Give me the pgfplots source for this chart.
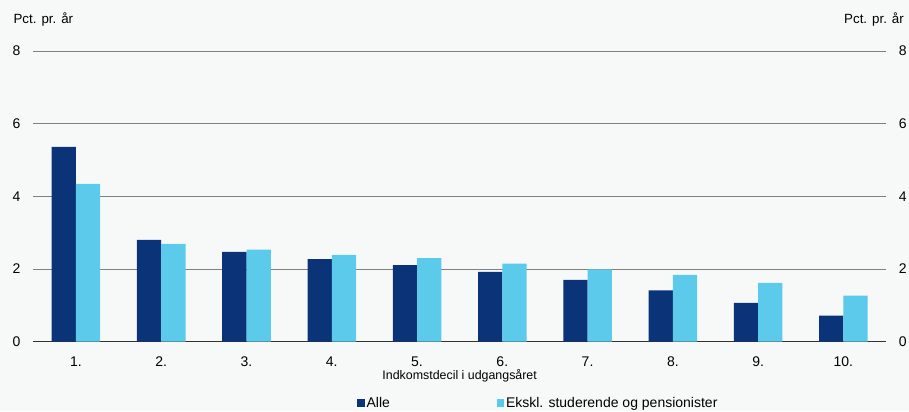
\documentclass[border=0pt]{standalone}
\usepackage{pgfplots}
\pgfplotsset{compat=1.18}
\usepackage{fontspec}
\setmainfont{Liberation Sans}

\definecolor{bg}{RGB}{247,249,249}
\definecolor{alle}{RGB}{10,51,120}
\definecolor{ekskl}{RGB}{92,203,235}
\definecolor{gridc}{RGB}{128,128,128}

\pgfplotstableread{
x alle ekskl
1  5.36 4.34
2  2.80 2.69
3  2.47 2.53
4  2.27 2.39
5  2.11 2.30
6  1.92 2.15
7  1.70 1.99
8  1.41 1.84
9  1.07 1.62
10 0.72 1.27
}\decil

\begin{document}
\begin{tikzpicture}
\fill[bg] (0,0) rectangle (681.75pt,308.25pt);
\node[anchor=base west, inner sep=0pt, font=\fontsize{10}{12}\selectfont] at (10pt,290.8pt) {Pct. pr. år};
\node[anchor=base east, inner sep=0pt, font=\fontsize{10}{12}\selectfont] at (678pt,290.8pt) {Pct. pr. år};

% main axis with bars
\begin{axis}[
  scale only axis, width=639.5pt, height=218pt,
  at={(25pt,52pt)}, anchor=south west,
  ymin=0, ymax=8, ytick={0,2,4,6,8},
  xmin=0.5, xmax=10.5, enlargelimits=false,
  xtick={1,...,10},
  xticklabels={1.,2.,3.,4.,5.,6.,7.,8.,9.,10.},
  extra x ticks={0.5,1.5,...,10.5},
  extra x tick labels={},
  extra x tick style={tick align=outside, major tick length=3.75pt, tick style={draw=black!80, line width=0.6pt}},
  x tick style={draw=none},
  y tick style={draw=none},
  tick align=inside,
  axis x line*=bottom,
  axis y line*=left,
  y axis line style={draw=none},
  x axis line style={draw=black!80, line width=0.6pt},
  ymajorgrids, grid style={gridc, line width=0.5pt},
  /pgf/number format/assume math mode=true,
  tick label style={font=\fontsize{10.5}{12}\selectfont},
  yticklabel style={inner sep=0pt, anchor=east},
  yticklabel shift=9.5pt,
  xticklabel style={inner sep=0pt, anchor=north},
  xticklabel shift=7pt,
  xlabel={Indkomstdecil i udgangsåret},
  xlabel style={font=\fontsize{9.3}{11}\selectfont, inner sep=0pt, at={(axis description cs:0.5,-0.117)}, anchor=center},
  ybar=0pt, bar width=18.2pt,
  legend columns=2,
  legend style={at={(axis description cs:0.38,-0.211)}, anchor=west, draw=none, fill=none,
    inner sep=0pt, outer sep=0pt, font=\fontsize{10.5}{12}\selectfont,
    nodes={inner sep=1.2pt},
    /tikz/every even column/.append style={column sep=79pt}},
  legend image code/.code={\fill[#1] (0pt,-2.8pt) rectangle (5.7pt,2.8pt);},
]
\addplot[fill=alle, draw=none] table[x=x, y=alle] {\decil};
\addlegendentry{Alle}
\addplot[fill=ekskl, draw=none] table[x=x, y=ekskl] {\decil};
\addlegendentry{Ekskl. studerende og pensionister}
\end{axis}

% right-hand tick labels
\begin{axis}[
  scale only axis, width=639.5pt, height=218pt,
  at={(25pt,52pt)}, anchor=south west,
  ymin=0, ymax=8, ytick={0,2,4,6,8},
  xmin=0.5, xmax=10.5,
  hide x axis,
  axis y line*=right,
  y axis line style={draw=none},
  y tick style={draw=none},
  /pgf/number format/assume math mode=true,
  tick label style={font=\fontsize{10.5}{12}\selectfont},
  yticklabel style={inner sep=0pt, anchor=west},
  yticklabel shift=9.5pt,
]
\addplot[draw=none] coordinates {(1,0)};
\end{axis}
\pgfresetboundingbox
\path[use as bounding box] (0,0) rectangle (681.75pt,308.25pt);
\end{tikzpicture}
\end{document}
